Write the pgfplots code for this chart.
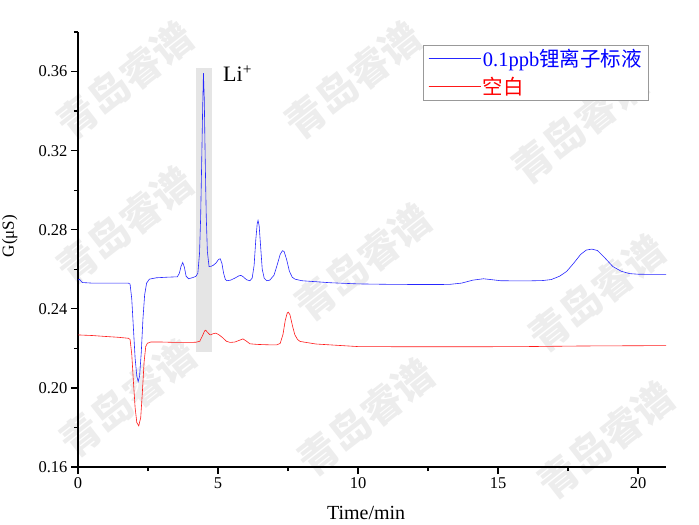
\documentclass[border=0pt]{standalone}
\usepackage{fontspec}
\setmainfont{Liberation Serif}
\newfontfamily\cjk{Noto Sans CJK SC}
\usepackage{pgfplots}
\pgfplotsset{compat=1.18}

\pgfplotstableread{
t G
0.00 0.2545
0.05 0.2550
0.15 0.2533
0.50 0.2530
1.00 0.2530
1.50 0.2530
1.80 0.2530
1.86 0.2525
1.92 0.2450
1.98 0.2300
2.04 0.2150
2.10 0.2060
2.15 0.2032
2.20 0.2060
2.26 0.2180
2.32 0.2350
2.38 0.2470
2.45 0.2530
2.55 0.2550
2.80 0.2557
3.20 0.2560
3.55 0.2562
3.62 0.2580
3.68 0.2615
3.74 0.2634
3.80 0.2610
3.86 0.2565
3.95 0.2552
4.10 0.2558
4.21 0.2564
4.28 0.2580
4.34 0.2680
4.38 0.2860
4.42 0.3160
4.45 0.3400
4.48 0.3592
4.51 0.3460
4.54 0.3180
4.58 0.2870
4.62 0.2690
4.68 0.2614
4.75 0.2615
4.83 0.2620
4.93 0.2632
5.02 0.2650
5.08 0.2653
5.14 0.2630
5.20 0.2580
5.26 0.2550
5.31 0.2542
5.45 0.2545
5.60 0.2555
5.75 0.2567
5.82 0.2569
5.90 0.2562
6.02 0.2547
6.14 0.2542
6.22 0.2555
6.29 0.2620
6.35 0.2750
6.40 0.2830
6.43 0.2847
6.47 0.2820
6.52 0.2720
6.58 0.2600
6.65 0.2555
6.74 0.2542
6.85 0.2545
7.00 0.2570
7.12 0.2625
7.22 0.2675
7.30 0.2694
7.36 0.2690
7.45 0.2650
7.55 0.2590
7.65 0.2560
7.75 0.2550
8.00 0.2542
9.00 0.2532
10.0 0.2526
11.0 0.2524
12.0 0.2523
13.0 0.2523
13.3 0.2524
13.7 0.2530
14.1 0.2545
14.48 0.2552
14.8 0.2547
15.1 0.2542
16.0 0.2541
16.6 0.2543
16.9 0.2548
17.2 0.2565
17.45 0.2589
17.7 0.2630
17.95 0.2675
18.15 0.2697
18.35 0.2702
18.55 0.2695
18.8 0.2660
19.1 0.2614
19.4 0.2590
19.7 0.2578
20.0 0.2575
20.5 0.2574
21.0 0.2574
}\blue

\pgfplotstableread{
t G
0.00 0.2268
0.50 0.2265
1.00 0.2260
1.44 0.2256
1.80 0.2251
1.86 0.2245
1.92 0.2170
1.98 0.2030
2.04 0.1900
2.10 0.1825
2.17 0.1808
2.24 0.1850
2.30 0.1980
2.36 0.2130
2.42 0.2210
2.48 0.2226
2.60 0.2232
3.00 0.2232
3.50 0.2230
4.00 0.2230
4.21 0.2231
4.35 0.2236
4.45 0.2265
4.52 0.2288
4.56 0.2292
4.62 0.2282
4.70 0.2270
4.74 0.2268
4.82 0.2274
4.92 0.2277
5.02 0.2270
5.15 0.2256
5.30 0.2236
5.43 0.2230
5.60 0.2232
5.75 0.2240
5.89 0.2248
6.00 0.2238
6.14 0.2223
6.40 0.2220
6.80 0.2218
7.10 0.2218
7.22 0.2225
7.32 0.2270
7.40 0.2340
7.47 0.2378
7.51 0.2383
7.57 0.2370
7.65 0.2320
7.74 0.2270
7.84 0.2245
7.93 0.2235
8.50 0.2222
10.0 0.2209
12.0 0.2208
14.0 0.2208
16.0 0.2209
18.0 0.2212
21.0 0.2214
}\red

\begin{document}
\begin{tikzpicture}
\useasboundingbox (0bp,0bp) rectangle (699bp,525bp);
\foreach \x/\y in {125/80, 353/80, 580/125, 125/225, 363/262, 597/293, 128/398, 366/417, 606/440}{
  \node[rotate=38, text=black!7, font=\cjk\bfseries\fontsize{40bp}{40bp}\selectfont] at (\x bp, {(525-\y)*1bp}) {青岛睿谱};
}
\begin{axis}[
  at={(78bp,58bp)}, anchor=south west,
  scale only axis, width=588bp, height=435bp,
  xmin=0, xmax=21, ymin=0.16, ymax=0.38,
  axis x line*=bottom, axis y line*=left,
  axis line style={line width=1.2bp, black},
  tick align=outside,
  xtick={0,5,10,15,20},
  minor xtick={2.5,7.5,12.5,17.5},
  ytick={0.16,0.20,0.24,0.28,0.32,0.36},
  minor ytick={0.18,0.22,0.26,0.30,0.34,0.38},
  major tick length=7bp, minor tick length=4bp,
  every tick/.style={black, line width=1.2bp},
  /pgf/number format/assume math mode=true,
  ticklabel style={font=\fontsize{16.5bp}{18bp}\selectfont},
  yticklabel style={/pgf/number format/.cd, fixed, fixed zerofill, precision=2},
  xlabel={Time/min},
  xlabel style={font=\fontsize{20bp}{22bp}\selectfont, at={(axis description cs:0.49,-0.105)}, anchor=center},
  ylabel={G(μS)},
  ylabel style={font=\fontsize{17bp}{19bp}\selectfont, at={(axis description cs:-0.116,0.531)}, anchor=center},
  legend cell align=left,
  legend image code/.code={\draw[#1] (0bp,0bp) -- (45bp,0bp); \path (0bp,0bp) -- (52bp,0bp);},
  legend style={at={(axis description cs:0.5867,0.970)}, anchor=north west,
    draw=gray!80, line width=0.6bp, font=\fontsize{20.5bp}{22bp}\selectfont,
    inner xsep=5bp, inner ysep=2bp, row sep=5bp},
]
\addplot[fill=black!10, draw=none, forget plot] coordinates {(4.21,0.218) (4.79,0.218) (4.79,0.362) (4.21,0.362)} -- cycle;
\addplot[blue!85, line width=0.6bp] table[x=t, y=G] {\blue};
\addlegendentry{\textcolor{blue}{0.1ppb{\cjk 锂离子标液}}}
\addplot[red!90, line width=0.6bp] table[x=t, y=G] {\red};
\addlegendentry{\textcolor{red}{\cjk 空白}}
\node[anchor=base west, inner sep=0pt, font=\fontsize{22bp}{24bp}\selectfont] at (axis cs:5.18,0.3549) {Li\textsuperscript{+}};
\end{axis}
\end{tikzpicture}
\end{document}
